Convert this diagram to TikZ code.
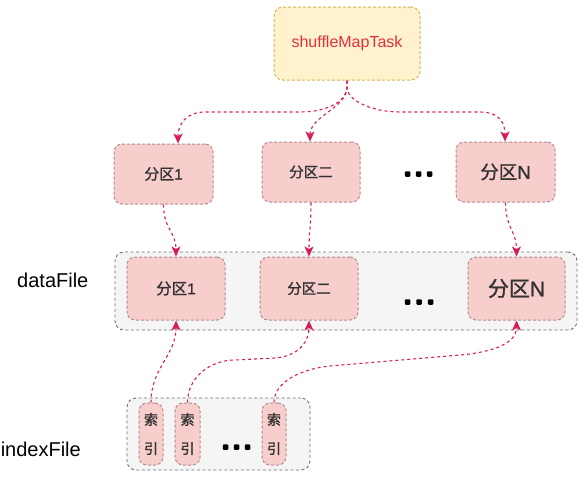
\documentclass[tikz,border=0pt]{standalone}
\usepackage{fontspec}
\setmainfont{Liberation Sans}
\newfontfamily\cjk{Noto Sans CJK SC}[FakeBold=1.2]
\newfontfamily\lat{Liberation Sans}[FakeBold=1.2]
\usetikzlibrary{arrows.meta}
\definecolor{pinkfill}{HTML}{F8CECC}
\definecolor{pinkline}{HTML}{B38A90}
\definecolor{contfill}{HTML}{F5F5F5}
\definecolor{contline}{HTML}{6E6E6E}
\definecolor{yelfill}{HTML}{FFF2CC}
\definecolor{yelline}{HTML}{D6B656}
\definecolor{arrowc}{HTML}{D81F55}
\definecolor{titlered}{HTML}{E0303F}
\definecolor{txt}{HTML}{333333}
\tikzset{
  pbox/.style={draw=pinkline, fill=pinkfill, dashed, dash pattern=on 3pt off 2pt, line width=1pt, rounded corners=8pt, text=txt, inner sep=0pt},
  cont/.style={draw=contline, fill=contfill, dash pattern=on 3pt off 2.5pt, line width=0.9pt, rounded corners=9pt},
  conn/.style={draw=arrowc, line width=1.1pt, dash pattern=on 3pt off 3pt, -{Stealth[length=10pt,width=9pt,inset=2.5pt]}},
  dotc/.style={fill=black, rounded corners=1pt, inner sep=0pt, minimum size=5.5pt},
  lbl/.style={font=\fontsize{20}{24}\selectfont, text=black, inner sep=0pt}
}
\begin{document}
\begin{tikzpicture}[x=1pt,y=-1pt]
\useasboundingbox (0,0) rectangle (585,485);
% top
\node[draw=yelline, fill=yelfill, dash pattern=on 3pt off 2pt, line width=1pt, rounded corners=9pt, minimum width=146pt, minimum height=73pt, text=titlered, font=\fontsize{16}{19}\selectfont] (top) at (347,43.5) {shuffleMapTask};
% row 1
\node[pbox, minimum width=99pt, minimum height=60pt, font=\cjk\fontsize{15}{18}\selectfont] (p1) at (163.5,174) {分区{\lat 1}};
\node[pbox, minimum width=98pt, minimum height=60pt, font=\cjk\fontsize{14.5}{18}\selectfont] (p2) at (311,172) {分区二};
\node[pbox, minimum width=99pt, minimum height=60pt, font=\cjk\fontsize{18.5}{22}\selectfont] (pN) at (505.5,172) {分区{\lat N}};
\node[dotc] (d1a) at (407.5,174) {};
\node[dotc] (d1b) at (418.5,174) {};
\node[dotc] (d1c) at (429.5,174) {};
% dataFile
\node[cont, minimum width=462pt, minimum height=78pt] (dc) at (346,291) {};
\node[lbl, anchor=base west] (dl) at (17,287) {dataFile};
\node[pbox, minimum width=98pt, minimum height=63pt, font=\cjk\fontsize{15.5}{18}\selectfont] (q1) at (176,288.5) {分区{\lat 1}};
\node[pbox, minimum width=98pt, minimum height=63pt, font=\cjk\fontsize{14.5}{18}\selectfont] (q2) at (309,288.5) {分区二};
\node[pbox, minimum width=97pt, minimum height=63pt, font=\cjk\fontsize{21}{24}\selectfont] (qN) at (516.5,288.5) {分区{\lat N}};
\node[dotc] (d2a) at (407.5,302) {};
\node[dotc] (d2b) at (419,302) {};
\node[dotc] (d2c) at (430.5,302) {};
% indexFile
\node[cont, minimum width=183pt, minimum height=72pt] (ic) at (218.5,434) {};
\node[lbl, anchor=base east] (il) at (81,456) {indexFile};
\node[pbox, minimum width=24pt, minimum height=62pt, align=center, font=\cjk\fontsize{14}{29}\selectfont] (i1) at (151,434) {索\\引};
\node[pbox, minimum width=25pt, minimum height=62pt, align=center, font=\cjk\fontsize{14}{29}\selectfont] (i2) at (187.5,434) {索\\引};
\node[pbox, minimum width=24pt, minimum height=62pt, align=center, font=\cjk\fontsize{14}{29}\selectfont] (i3) at (274,434) {索\\引};
\node[dotc] (d3a) at (225.5,447) {};
\node[dotc] (d3b) at (236.5,447) {};
\node[dotc] (d3c) at (247.5,447) {};
% connectors from top
\draw[conn] (top.south) -- ++(0,7) .. controls +(0,12) and +(30,0) .. (300,112) -- (205,112) .. controls +(-20,0) and +(0,-18) .. ([xshift=14.5pt]p1.north);
\draw[conn] (top.south) -- ++(0,7) .. controls +(0,20) and +(0,-25) .. ([xshift=-1pt]p2.north);
\draw[conn] (top.south) -- ++(0,7) .. controls +(0,12) and +(-30,0) .. (400,112) -- (480,112) .. controls +(20,0) and +(0,-18) .. ([xshift=-0.5pt]pN.north);
% row1 to row2
\draw[conn] (p1.south) .. controls +(0,25) and +(0,-25) .. (q1.north);
\draw[conn] (p2.south) .. controls +(0,25) and +(0,-25) .. (q2.north);
\draw[conn] (pN.south) .. controls +(0,25) and +(0,-25) .. (qN.north);
% index to data
\draw[conn] (i1.north) .. controls +(0,-35) and +(0,35) .. (q1.south);
\draw[conn] (i2.north) .. controls +(0,-25) and +(-25,0) .. (235,360) -- (275,358) .. controls +(25,-2) and +(0,20) .. (q2.south);
\draw[conn] (i3.north) .. controls +(0,-20) and +(-30,3) .. (330,366) -- (460,355) .. controls +(35,-3) and +(0,22) .. (qN.south);
\end{tikzpicture}
\end{document}
